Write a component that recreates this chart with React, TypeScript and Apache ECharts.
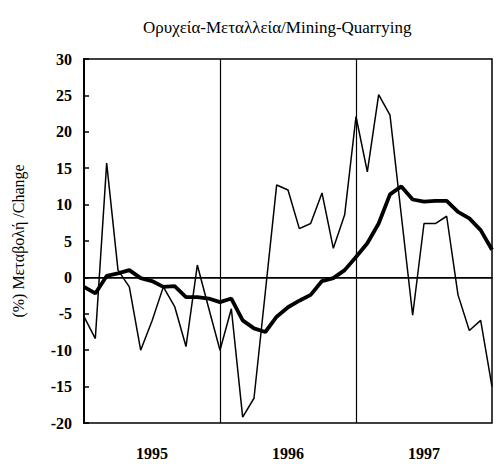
import React, { useEffect, useRef } from "react";
import * as echarts from "echarts";

const months: string[] = [];
for (let y = 1995; y <= 1998; y++) {
  for (let m = 1; m <= 12; m++) {
    if (y === 1998 && m > 1) break;
    months.push(`${y}-${m < 10 ? "0" + m : m}`);
  }
}

const monthly: number[] = [
  -5.4, -8.4, 15.7, 1.0, -1.3, -10.0, -6.0, -1.3, -4.0, -9.5, 1.7, -4.2,
  -10.0, -4.3, -19.2, -16.6, -2.0, 12.7, 12.0, 6.7, 7.4, 11.6, 4.0, 8.6,
  22.1, 14.5, 25.1, 22.3, 8.5, -5.2, 7.4, 7.4, 8.4, -2.4, -7.3, -5.9, -15.0,
];

const trend: number[] = [
  -1.3, -2.2, 0.2, 0.55, 1.0, -0.1, -0.5, -1.3, -1.2, -2.7, -2.7, -2.9,
  -3.4, -2.9, -5.9, -7.0, -7.5, -5.4, -4.1, -3.2, -2.4, -0.5, -0.1, 1.0,
  2.8, 4.7, 7.4, 11.4, 12.5, 10.7, 10.4, 10.5, 10.5, 9.0, 8.1, 6.5, 3.8,
];

const yearLines: string[] = ["1996-01", "1997-01"];
const yTicks = { min: -20, max: 30, interval: 5 };

const titleText = "Ορυχεία-Μεταλλεία/Mining-Quarrying";
const yName = "(%) Μεταβολή /Change";
const FONT = "Liberation Serif";

export default function App() {
  const ref = useRef<HTMLDivElement>(null);
  useEffect(() => {
    if (!ref.current) return;
    const chart = echarts.init(ref.current, null, { renderer: "svg" });
    chart.setOption({
      animation: false,
      backgroundColor: "#ffffff",
      title: {
        text: titleText,
        left: 138,
        top: 14,
        textStyle: { fontFamily: FONT, fontSize: 17, fontWeight: "normal", color: "#000" },
      },
      grid: {
        left: 84,
        right: 12,
        top: 59,
        bottom: 41,
        show: true,
        borderColor: "#000",
        borderWidth: 1.5,
      },
      xAxis: {
        type: "category",
        data: months,
        boundaryGap: false,
        axisLine: { show: true, lineStyle: { color: "#000", width: 1.5 } },
        axisTick: { show: false },
        splitLine: { show: false },
        axisLabel: {
          interval: 0,
          margin: 22,
          fontFamily: FONT,
          fontSize: 16,
          fontWeight: "bold",
          color: "#000",
          formatter: (v: string) => (v.endsWith("-07") ? v.slice(0, 4) : ""),
        },
      },
      yAxis: {
        type: "value",
        min: yTicks.min,
        max: yTicks.max,
        interval: yTicks.interval,
        name: yName,
        nameLocation: "middle",
        nameGap: 58,
        nameRotate: 90,
        nameTextStyle: { fontFamily: FONT, fontSize: 16, color: "#000" },
        axisLine: { show: true, lineStyle: { color: "#000", width: 2 } },
        axisTick: { show: true, inside: true, length: 5, lineStyle: { color: "#000", width: 1.5 } },
        splitLine: { show: false },
        axisLabel: { margin: 12, fontFamily: FONT, fontSize: 16, fontWeight: "bold", color: "#000" },
      },
      series: [
        {
          type: "line",
          data: monthly,
          symbol: "none",
          lineStyle: { color: "#000", width: 1.5 },
          markLine: {
            silent: true,
            symbol: "none",
            label: { show: false },
            lineStyle: { color: "#000", width: 1.2, type: "solid" },
            data: [...yearLines.map((m) => ({ xAxis: m })), { yAxis: 0 }],
          },
        },
        {
          type: "line",
          data: trend,
          symbol: "none",
          lineStyle: { color: "#000", width: 3.8 },
        },
      ],
    });
    return () => chart.dispose();
  }, []);
  return (
    <div
      ref={ref}
      style={{ position: "fixed", left: 0, top: 0, width: 504, height: 464, background: "#fff" }}
    />
  );
}
